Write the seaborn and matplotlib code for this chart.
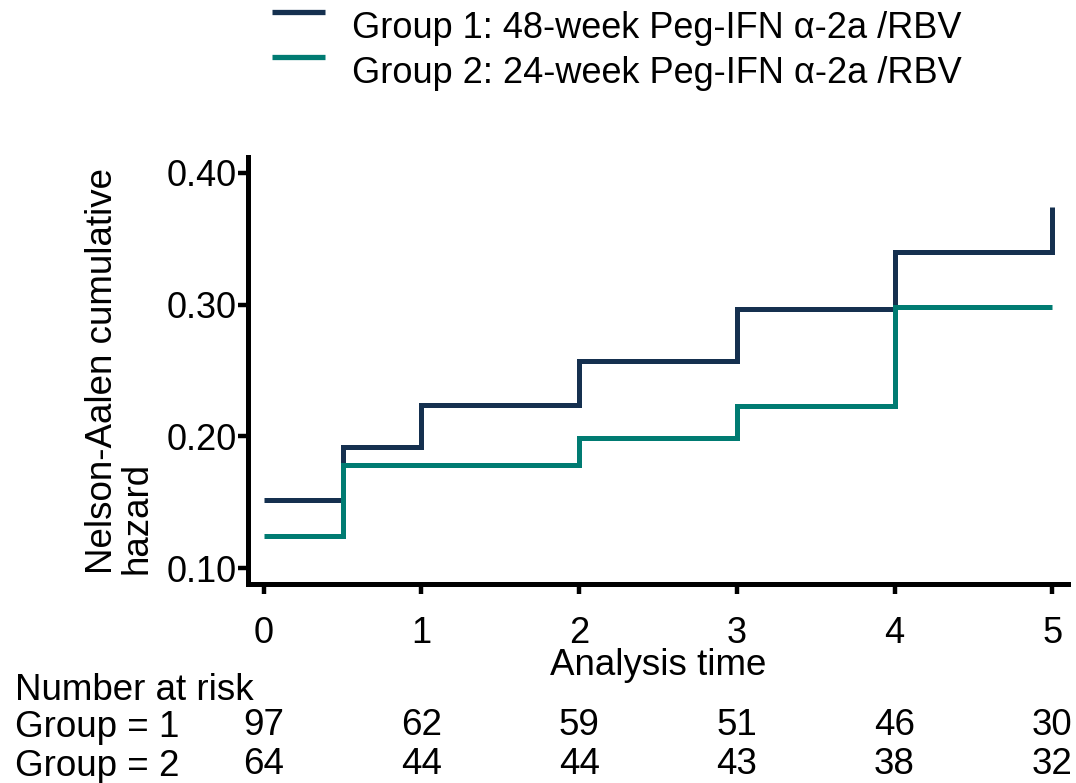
import matplotlib
matplotlib.use("Agg")
import matplotlib.pyplot as plt
import matplotlib.transforms as mtrans
from matplotlib.lines import Line2D
from matplotlib.ticker import FormatStrFormatter
import seaborn as sns
import pandas as pd

# ---- data ----
group1_label = "Group 1: 48-week Peg-IFN α-2a /RBV"
group2_label = "Group 2: 24-week Peg-IFN α-2a /RBV"
g1_time = [0, 0.5, 1, 2, 3, 4, 5]
g1_hazard = [0.152, 0.192, 0.224, 0.257, 0.297, 0.340, 0.374]
g2_time = [0, 0.5, 2, 3, 4, 5]
g2_hazard = [0.124, 0.178, 0.199, 0.223, 0.298, 0.298]
x_ticks = [0, 1, 2, 3, 4, 5]
y_ticks = [0.10, 0.20, 0.30, 0.40]
risk_times = [0, 1, 2, 3, 4, 5]
risk_g1 = [97, 62, 59, 51, 46, 30]
risk_g2 = [64, 44, 44, 43, 38, 32]
color_g1 = "#15304f"
color_g2 = "#007b72"

df = pd.DataFrame({
    "time": g1_time + g2_time,
    "hazard": g1_hazard + g2_hazard,
    "group": [group1_label] * len(g1_time) + [group2_label] * len(g2_time),
})

sns.set_style("ticks")
plt.rcParams["font.family"] = ["Liberation Sans", "DejaVu Sans"]
plt.rcParams["text.color"] = "black"
plt.rcParams["axes.labelcolor"] = "black"

fig = plt.figure(figsize=(10.76, 7.83), dpi=100)
ax = fig.add_axes([248 / 1076, 1 - 584 / 783, (1068 - 248) / 1076, (584 - 157) / 783])

sns.lineplot(data=df, x="time", y="hazard", hue="group",
             palette={group1_label: color_g1, group2_label: color_g2},
             drawstyle="steps-post", estimator=None, sort=False,
             linewidth=3.6, legend=False, ax=ax)
for ln in ax.lines:
    ln.set_solid_capstyle("butt")
    ln.set_solid_joinstyle("miter")

ax.set_xlim(-0.1, 5.1)
ax.set_ylim(0.0879, 0.412)
ax.set_xticks(x_ticks)
ax.set_yticks(y_ticks)
ax.yaxis.set_major_formatter(FormatStrFormatter("%.2f"))
sns.despine(ax=ax)
for s in ["left", "bottom"]:
    ax.spines[s].set_linewidth(3.6)
    ax.spines[s].set_color("black")
ax.tick_params(axis="both", direction="out", length=7, width=3.2, color="black",
               labelsize=26, labelcolor="black")
ax.tick_params(axis="y", pad=1)
ax.tick_params(axis="x", pad=16)

ax.set_xlabel("Analysis time", fontsize=26.5, labelpad=-2)
ax.set_ylabel("Nelson-Aalen cumulative\nhazard", fontsize=26.5, multialignment="left",
              linespacing=0.95, labelpad=9)

# legend drawn manually
for ypix, col, lab in [(11.7, color_g1, group1_label), (56.7, color_g2, group2_label)]:
    fig.add_artist(Line2D([272 / 1076, 325 / 1076], [1 - ypix / 783] * 2,
                          transform=fig.transFigure, color=col, linewidth=3.8,
                          solid_capstyle="butt"))
    fig.text(352 / 1076, 1 - (ypix + 26) / 783, lab, fontsize=26,
             va="baseline", ha="left")

# number at risk table
fig.text(15 / 1076, 1 - 700 / 783, "Number at risk", fontsize=26.5, va="baseline")
fig.text(15 / 1076, 1 - 737 / 783, "Group = 1", fontsize=26.5, va="baseline")
fig.text(15 / 1076, 1 - 776 / 783, "Group = 2", fontsize=26.5, va="baseline")
blend = mtrans.blended_transform_factory(ax.transData, fig.transFigure)
for t, n1, n2 in zip(risk_times, risk_g1, risk_g2):
    ax.text(t, 1 - 735 / 783, str(n1), transform=blend, ha="center", va="baseline",
            fontsize=26.5, clip_on=False)
    ax.text(t, 1 - 774 / 783, str(n2), transform=blend, ha="center", va="baseline",
            fontsize=26.5, clip_on=False)

fig.savefig("out.png", dpi=100)
